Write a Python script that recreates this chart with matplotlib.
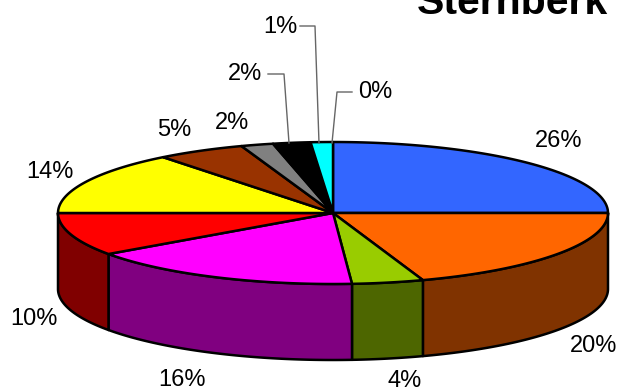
import numpy as np
import matplotlib
matplotlib.use('Agg')
import matplotlib.pyplot as plt

plt.rcParams['font.family'] = ['Liberation Sans', 'DejaVu Sans']

title = 'Sternberk'
values = [25.0, 19.7, 4.2, 16.3, 9.8, 14.4, 5.2, 1.9, 2.2, 1.3, 0.0]
labels = ['26%', '20%', '4%', '16%', '10%', '14%', '5%', '2%', '2%', '1%', '0%']
top_colors = ['#3366FF', '#FF6600', '#99CC00', '#FF00FF', '#FF0000', '#FFFF00',
              '#993300', '#808080', '#000000', '#00FFFF', '#3366FF']
side_colors = ['#1A3380', '#803300', '#4D6600', '#800080', '#800000', '#808000',
               '#4D1A00', '#404040', '#000000', '#008080', '#1A3380']

# label anchors in pixels
label_pos = [(559, 141), (594, 346), (405, 381), (182, 380), (34, 319), (50, 172),
             (174, 130), (232, 123), (245, 74), (280, 27), (375, 92)]
leaders = {8: [(268, 74), (284, 74), (289, 143)],
           9: [(300, 26), (315, 26), (319, 143)],
           10: [(352, 92), (337, 92), (332, 143)]}

cx, cy = 333, 213
rx, ry = 275, 71
depth = 76


def ring(a0, a1):
    # angles clockwise from 12 o'clock, in degrees
    t = np.radians(np.linspace(a0, a1, max(int(abs(a1 - a0) * 2), 2)))
    return cx + rx * np.sin(t), cy - ry * np.cos(t)


fig = plt.figure(figsize=(6.2, 3.9), dpi=100)
ax = fig.add_axes([0, 0, 1, 1])
ax.set_xlim(0, 620)
ax.set_ylim(390, 0)
ax.axis('off')

edges = np.cumsum([0] + values) / np.sum(values) * 360

# walls first, only the front half shows
for i in range(len(values)):
    a0, a1 = max(edges[i], 90), min(edges[i + 1], 270)
    if a1 <= a0:
        continue
    x, y = ring(a0, a1)
    ax.fill(np.r_[x, x[::-1]], np.r_[y, y[::-1] + depth], fc=side_colors[i],
            ec='black', lw=1.8, joinstyle='round')

for i in range(len(values)):
    if values[i] == 0:
        continue
    x, y = ring(edges[i], edges[i + 1])
    ax.fill(np.r_[cx, x], np.r_[cy, y], fc=top_colors[i], ec='black', lw=1.8,
            joinstyle='round')

for i, pts in leaders.items():
    ax.plot([p[0] for p in pts], [p[1] for p in pts], color='#666666', lw=1)

for lab, (x, y) in zip(labels, label_pos):
    ax.text(x, y, lab, fontsize=17, ha='center', va='center', color='black')

# title runs off the top edge in the original
ax.text(512, 14, title, fontsize=29.5, fontweight='bold', ha='center', va='baseline')

fig.savefig('out.png', dpi=100)
